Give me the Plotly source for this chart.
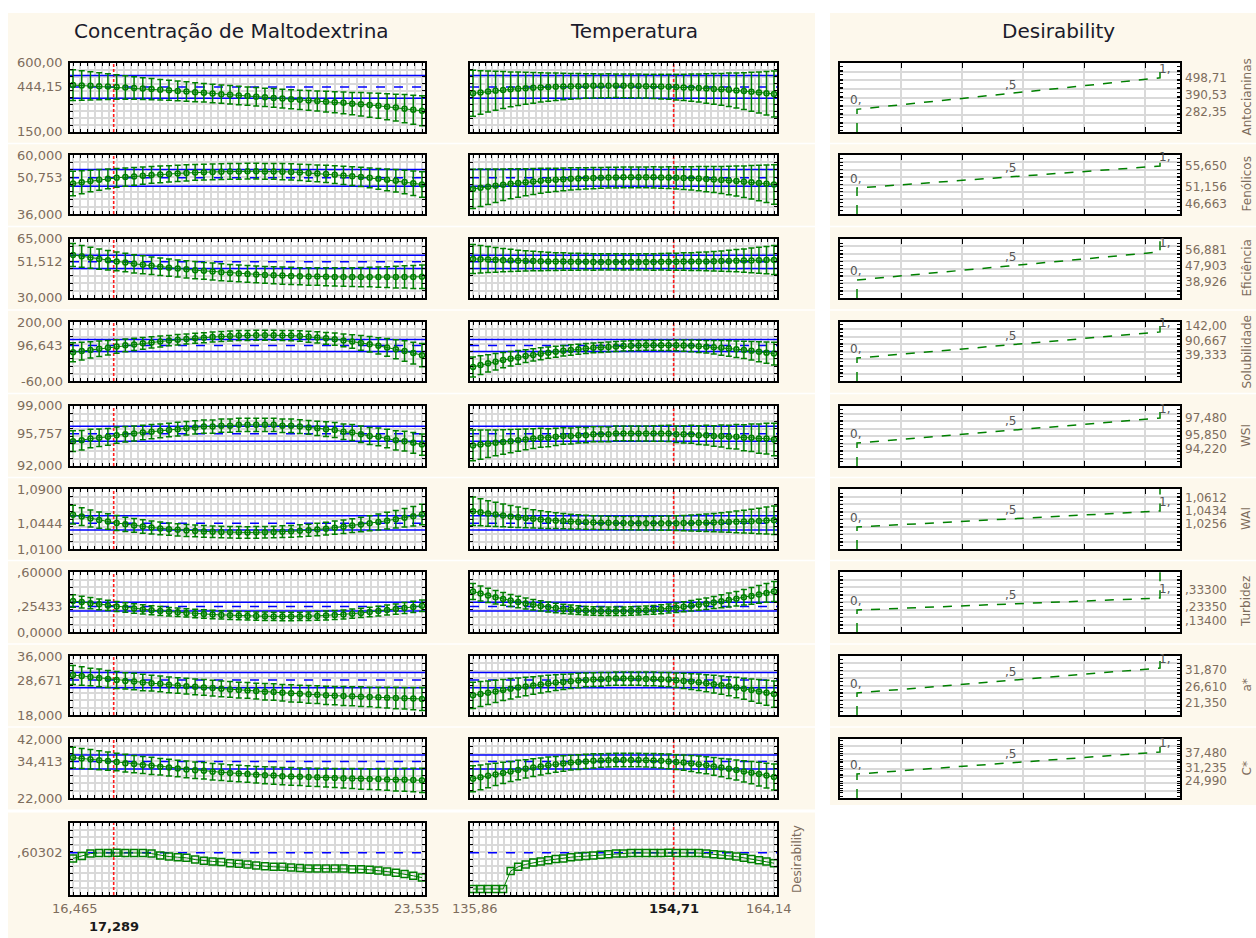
import plotly.graph_objects as go

W, H = 1256, 938
GREEN = '#008000'
BLUE = '#0000ff'
RED = '#ff1a1a'
LABEL_C = '#7d6d5d'
TITLE_C = '#1b1b2b'
BEIGE = '#fdf8ec'
FONT = 'DejaVu Sans'

# ------------------------------------------------------------------ data
FACTORS = ["Concentração de Maltodextrina", "Temperatura"]
MALTO = [16.465, 23.535]
TEMP = [135.86, 164.14]
MALTO_OPT = 17.289
TEMP_OPT = 154.71
X_LABELS = [["16,465", "23,535"], ["135,86", "164,14"]]
X_OPT_LABELS = ["17,289", "154,71"]
N_LEVELS = 41

RESP = ["Antocianinas", "Fenólicos", "Eficiência", "Solubilidade", "WSI", "WAI",
        "Turbidez", "a*", "C*"]
Y_RANGE = [[150, 600], [36, 60], [30, 65], [-60, 200], [92, 99], [1.01, 1.09],
           [0, 0.6], [18, 36], [22, 42]]
Y_LABELS = [["600,00", "444,15", "150,00"], ["60,000", "50,753", "36,000"],
            ["65,000", "51,512", "30,000"], ["200,00", "96,643", "-60,00"],
            ["99,000", "95,757", "92,000"], ["1,0900", "1,0444", "1,0100"],
            [",60000", ",25433", "0,0000"], ["36,000", "28,671", "18,000"],
            ["42,000", "34,413", "22,000"]]
CURRENT = [444.15, 50.753, 51.512, 96.643, 95.757, 1.0444, 0.25433, 28.671, 34.413]
CI = [[370, 518], [47.3, 54.1], [47.5, 55.4], [70, 123], [94.9, 96.65],
      [1.0353, 1.0545], [0.21, 0.298], [26.3, 31.0], [31.8, 36.6]]

anto_m = [456, 453, 451, 448, 446, 443, 440, 437, 433, 430,
          426, 422, 418, 414, 410, 406, 401, 397, 393, 388,
          384, 380, 376, 372, 368, 364, 360, 356, 352, 348,
          344, 340, 335, 331, 326, 321, 315, 309, 302, 295,
          288]
anto_m_e = [100, 96, 92, 88, 84, 80, 77, 74, 71, 69,
            67, 65, 64, 63, 62, 61, 61, 60, 60, 60,
            60, 60, 60, 61, 61, 62, 63, 64, 65, 67,
            69, 71, 73, 76, 79, 82, 85, 88, 92, 95,
            98]
anto_t = [402, 408, 414, 419, 424, 428, 432, 435, 438, 441,
          443, 445, 447, 448, 449, 450, 451, 451, 452, 452,
          451, 451, 450, 449, 448, 446, 445, 443, 441, 439,
          437, 434, 431, 428, 425, 421, 417, 413, 408, 403,
          398]
anto_t_e = [150, 142, 134, 127, 120, 114, 109, 104, 100, 96,
            92, 89, 86, 84, 82, 80, 79, 78, 78, 77,
            77, 77, 78, 78, 79, 80, 82, 84, 86, 89,
            92, 96, 100, 104, 109, 114, 120, 127, 134, 142,
            150]

fen_m = [48.4, 48.9, 49.4, 49.9, 50.3, 50.7, 51.0, 51.3, 51.6, 51.9,
         52.1, 52.3, 52.5, 52.7, 52.9, 53.0, 53.1, 53.2, 53.3, 53.3,
         53.4, 53.4, 53.3, 53.3, 53.2, 53.1, 52.9, 52.7, 52.5, 52.3,
         52.0, 51.7, 51.4, 51.1, 50.7, 50.3, 49.9, 49.5, 49.0, 48.5,
         48.0]
fen_m_e = [5.0, 4.7, 4.4, 4.2, 4.0, 3.8, 3.7, 3.6, 3.5, 3.4,
           3.4, 3.3, 3.3, 3.3, 3.2, 3.2, 3.2, 3.2, 3.2, 3.2,
           3.2, 3.2, 3.2, 3.2, 3.3, 3.3, 3.3, 3.4, 3.4, 3.5,
           3.6, 3.7, 3.8, 3.9, 4.0, 4.2, 4.4, 4.6, 4.8, 5.0,
           5.2]
fen_t = [46.2, 46.7, 47.1, 47.5, 47.9, 48.3, 48.6, 48.9, 49.2, 49.5,
         49.7, 49.9, 50.1, 50.3, 50.4, 50.5, 50.6, 50.7, 50.8, 50.8,
         50.9, 50.9, 50.9, 50.9, 50.9, 50.8, 50.8, 50.7, 50.6, 50.5,
         50.4, 50.2, 50.0, 49.8, 49.6, 49.4, 49.1, 48.9, 48.6, 48.3,
         48.0]
fen_t_e = [8.0, 7.6, 7.2, 6.8, 6.4, 6.1, 5.8, 5.5, 5.3, 5.1,
           4.9, 4.7, 4.6, 4.5, 4.4, 4.3, 4.3, 4.2, 4.2, 4.2,
           4.2, 4.2, 4.2, 4.2, 4.3, 4.3, 4.4, 4.5, 4.6, 4.7,
           4.9, 5.1, 5.3, 5.5, 5.8, 6.1, 6.4, 6.8, 7.2, 7.6,
           8.0]

efi_m = [55.5, 54.7, 53.9, 53.1, 52.4, 51.7, 51.0, 50.3, 49.7, 49.1,
         48.5, 48.0, 47.5, 47.0, 46.5, 46.1, 45.7, 45.3, 44.9, 44.6,
         44.3, 44.0, 43.7, 43.5, 43.3, 43.1, 42.9, 42.8, 42.7, 42.6,
         42.5, 42.5, 42.4, 42.4, 42.4, 42.4, 42.4, 42.4, 42.5, 42.5,
         42.6]
efi_m_e = [6.8, 6.5, 6.2, 6.0, 5.8, 5.6, 5.5, 5.4, 5.3, 5.2,
           5.2, 5.1, 5.1, 5.1, 5.1, 5.0, 5.0, 5.0, 5.0, 5.0,
           5.0, 5.0, 5.0, 5.0, 5.1, 5.1, 5.1, 5.2, 5.2, 5.3,
           5.4, 5.5, 5.6, 5.7, 5.8, 6.0, 6.2, 6.4, 6.6, 6.8,
           7.0]
efi_t = [53.2, 53.0, 52.8, 52.6, 52.4, 52.3, 52.1, 52.0, 51.9, 51.8,
         51.7, 51.6, 51.6, 51.5, 51.5, 51.5, 51.4, 51.4, 51.4, 51.4,
         51.4, 51.4, 51.4, 51.4, 51.4, 51.5, 51.5, 51.5, 51.6, 51.6,
         51.7, 51.7, 51.8, 51.9, 52.0, 52.1, 52.2, 52.3, 52.4, 52.5,
         52.6]
efi_t_e = [8.6, 8.1, 7.7, 7.3, 6.9, 6.6, 6.3, 6.0, 5.8, 5.6,
           5.4, 5.3, 5.2, 5.1, 5.0, 4.9, 4.9, 4.8, 4.8, 4.8,
           4.8, 4.8, 4.8, 4.8, 4.9, 4.9, 5.0, 5.1, 5.2, 5.3,
           5.4, 5.6, 5.8, 6.0, 6.3, 6.6, 6.9, 7.3, 7.7, 8.1,
           8.6]

sol_m = [67, 72, 77, 82, 87, 92, 97, 101, 106, 110,
         114, 118, 122, 125, 128, 131, 134, 136, 138, 140,
         141, 142, 142, 142, 141, 140, 138, 135, 132, 128,
         124, 119, 114, 108, 102, 95, 88, 80, 72, 63,
         54]
sol_m_e = [42, 39, 36, 34, 32, 30, 28, 27, 26, 25,
           24, 23, 23, 22, 22, 22, 22, 22, 22, 22,
           22, 22, 22, 22, 22, 23, 23, 24, 25, 26,
           27, 28, 30, 32, 34, 36, 39, 42, 45, 48,
           51]
sol_t = [2, 10, 18, 25, 32, 38, 44, 50, 55, 60,
         65, 69, 73, 77, 80, 83, 86, 88, 90, 92,
         94, 95, 96, 97, 97, 97, 97, 97, 96, 95,
         93, 91, 89, 86, 83, 80, 77, 73, 69, 65,
         61]
sol_t_e = [44, 41, 38, 36, 34, 32, 30, 28, 27, 26,
           25, 24, 23, 23, 22, 22, 22, 22, 22, 22,
           22, 22, 22, 22, 22, 23, 23, 24, 25, 26,
           27, 28, 30, 32, 34, 36, 38, 41, 44, 47,
           50]

wsi_m = [94.9, 95.0, 95.2, 95.3, 95.4, 95.6, 95.7, 95.8, 95.9, 96.0,
         96.1, 96.2, 96.3, 96.4, 96.5, 96.6, 96.6, 96.7, 96.7, 96.8,
         96.8, 96.8, 96.8, 96.8, 96.7, 96.7, 96.6, 96.5, 96.4, 96.3,
         96.2, 96.0, 95.9, 95.7, 95.5, 95.4, 95.2, 95.0, 94.9, 94.7,
         94.5]
wsi_m_e = [1.20, 1.14, 1.08, 1.03, 0.98, 0.94, 0.90, 0.87, 0.85, 0.83,
           0.81, 0.80, 0.79, 0.78, 0.78, 0.77, 0.77, 0.77, 0.77, 0.77,
           0.77, 0.77, 0.77, 0.78, 0.78, 0.79, 0.80, 0.81, 0.83, 0.85,
           0.87, 0.90, 0.93, 0.96, 1.00, 1.04, 1.08, 1.12, 1.16, 1.20,
           1.24]
wsi_t = [94.4, 94.5, 94.6, 94.7, 94.8, 94.9, 95.0, 95.1, 95.2, 95.3,
         95.3, 95.4, 95.5, 95.5, 95.6, 95.6, 95.7, 95.7, 95.7, 95.8,
         95.8, 95.8, 95.8, 95.8, 95.8, 95.8, 95.8, 95.7, 95.7, 95.7,
         95.6, 95.6, 95.5, 95.5, 95.4, 95.4, 95.3, 95.3, 95.2, 95.2,
         95.1]
wsi_t_e = [1.80, 1.70, 1.60, 1.51, 1.43, 1.35, 1.28, 1.21, 1.15, 1.10,
           1.05, 1.01, 0.97, 0.94, 0.92, 0.90, 0.88, 0.87, 0.86, 0.86,
           0.86, 0.86, 0.87, 0.88, 0.90, 0.92, 0.94, 0.97, 1.01, 1.05,
           1.10, 1.15, 1.21, 1.28, 1.35, 1.43, 1.51, 1.60, 1.70, 1.80,
           1.90]

wai_m = [1.0557, 1.0532, 1.0508, 1.0486, 1.0466, 1.0447, 1.0430, 1.0414, 1.0400, 1.0387,
         1.0375, 1.0365, 1.0356, 1.0348, 1.0341, 1.0335, 1.0330, 1.0326, 1.0323, 1.0322,
         1.0321, 1.0322, 1.0324, 1.0327, 1.0331, 1.0336, 1.0342, 1.0350, 1.0359, 1.0371,
         1.0385, 1.0398, 1.0412, 1.0427, 1.0443, 1.0460, 1.0478, 1.0497, 1.0517, 1.0538,
         1.0560]
wai_m_e = [0.0125, 0.0119, 0.0113, 0.0108, 0.0103, 0.0099, 0.0095, 0.0092, 0.0089, 0.0086,
           0.0084, 0.0082, 0.0081, 0.0080, 0.0079, 0.0078, 0.0078, 0.0077, 0.0077, 0.0077,
           0.0077, 0.0077, 0.0077, 0.0078, 0.0078, 0.0079, 0.0080, 0.0081, 0.0083, 0.0085,
           0.0087, 0.0090, 0.0093, 0.0097, 0.0101, 0.0106, 0.0111, 0.0117, 0.0123, 0.0130,
           0.0137]
wai_t = [1.0605, 1.0590, 1.0575, 1.0561, 1.0548, 1.0535, 1.0523, 1.0512, 1.0502, 1.0493,
         1.0485, 1.0478, 1.0472, 1.0466, 1.0461, 1.0457, 1.0454, 1.0451, 1.0449, 1.0447,
         1.0446, 1.0445, 1.0444, 1.0444, 1.0444, 1.0444, 1.0444, 1.0445, 1.0446, 1.0447,
         1.0449, 1.0451, 1.0453, 1.0456, 1.0459, 1.0462, 1.0466, 1.0470, 1.0474, 1.0479,
         1.0484]
wai_t_e = [0.0190, 0.0180, 0.0170, 0.0161, 0.0152, 0.0144, 0.0136, 0.0129, 0.0122, 0.0116,
           0.0111, 0.0106, 0.0102, 0.0098, 0.0095, 0.0093, 0.0091, 0.0090, 0.0089, 0.0088,
           0.0088, 0.0088, 0.0089, 0.0090, 0.0091, 0.0093, 0.0095, 0.0098, 0.0102, 0.0106,
           0.0111, 0.0116, 0.0122, 0.0129, 0.0136, 0.0144, 0.0152, 0.0161, 0.0170, 0.0180,
           0.0190]

tur_m = [0.310, 0.299, 0.288, 0.277, 0.266, 0.255, 0.245, 0.235, 0.226, 0.218,
         0.210, 0.203, 0.197, 0.191, 0.185, 0.180, 0.175, 0.171, 0.167, 0.164,
         0.161, 0.159, 0.157, 0.156, 0.155, 0.155, 0.156, 0.158, 0.161, 0.165,
         0.170, 0.176, 0.183, 0.191, 0.200, 0.209, 0.219, 0.229, 0.240, 0.251,
         0.262]
tur_m_e = [0.062, 0.059, 0.056, 0.054, 0.052, 0.050, 0.048, 0.047, 0.046, 0.045,
           0.044, 0.043, 0.043, 0.042, 0.042, 0.042, 0.042, 0.042, 0.042, 0.042,
           0.042, 0.042, 0.042, 0.042, 0.042, 0.042, 0.042, 0.043, 0.043, 0.044,
           0.044, 0.045, 0.046, 0.047, 0.048, 0.049, 0.050, 0.052, 0.054, 0.056,
           0.058]
tur_t = [0.405, 0.385, 0.366, 0.348, 0.331, 0.315, 0.300, 0.286, 0.273, 0.261,
         0.250, 0.240, 0.231, 0.224, 0.218, 0.213, 0.210, 0.208, 0.207, 0.207,
         0.208, 0.210, 0.213, 0.217, 0.222, 0.228, 0.235, 0.243, 0.252, 0.262,
         0.272, 0.283, 0.295, 0.307, 0.320, 0.333, 0.347, 0.361, 0.376, 0.391,
         0.406]
tur_t_e = [0.080, 0.076, 0.072, 0.068, 0.064, 0.061, 0.058, 0.055, 0.053, 0.051,
           0.049, 0.047, 0.046, 0.045, 0.044, 0.043, 0.043, 0.042, 0.042, 0.042,
           0.042, 0.042, 0.042, 0.043, 0.044, 0.045, 0.046, 0.048, 0.050, 0.052,
           0.055, 0.058, 0.061, 0.065, 0.069, 0.073, 0.078, 0.083, 0.088, 0.094,
           0.100]

as_m = [30.2, 29.9, 29.6, 29.3, 29.0, 28.7, 28.4, 28.2, 27.9, 27.7,
        27.5, 27.2, 27.0, 26.8, 26.6, 26.4, 26.2, 26.0, 25.8, 25.6,
        25.5, 25.3, 25.1, 25.0, 24.8, 24.6, 24.5, 24.3, 24.2, 24.0,
        23.9, 23.8, 23.7, 23.6, 23.5, 23.4, 23.3, 23.2, 23.1, 23.0,
        22.9]
as_m_e = [2.9, 2.8, 2.7, 2.7, 2.6, 2.6, 2.5, 2.5, 2.5, 2.4,
          2.4, 2.4, 2.4, 2.4, 2.4, 2.4, 2.4, 2.4, 2.4, 2.4,
          2.4, 2.4, 2.5, 2.5, 2.5, 2.6, 2.6, 2.7, 2.7, 2.8,
          2.8, 2.9, 2.9, 3.0, 3.0, 3.1, 3.2, 3.3, 3.3, 3.4,
          3.5]
as_t = [24.0, 24.4, 24.8, 25.2, 25.6, 26.0, 26.4, 26.7, 27.0, 27.3,
        27.6, 27.9, 28.1, 28.3, 28.5, 28.7, 28.8, 28.9, 29.0, 29.1,
        29.1, 29.1, 29.1, 29.0, 29.0, 28.9, 28.8, 28.6, 28.4, 28.2,
        28.0, 27.7, 27.4, 27.1, 26.8, 26.4, 26.0, 25.6, 25.2, 24.8,
        24.4]
as_t_e = [4.0, 3.8, 3.6, 3.4, 3.2, 3.1, 2.9, 2.8, 2.7, 2.6,
          2.5, 2.4, 2.3, 2.2, 2.2, 2.1, 2.1, 2.1, 2.0, 2.0,
          2.0, 2.0, 2.0, 2.1, 2.1, 2.1, 2.2, 2.2, 2.3, 2.4,
          2.5, 2.6, 2.7, 2.8, 2.9, 3.1, 3.2, 3.4, 3.6, 3.8,
          4.0]

cs_m = [35.7, 35.4, 35.1, 34.8, 34.5, 34.2, 33.8, 33.5, 33.2, 32.9,
        32.6, 32.3, 32.0, 31.7, 31.4, 31.2, 30.9, 30.7, 30.5, 30.3,
        30.1, 29.9, 29.7, 29.6, 29.4, 29.3, 29.2, 29.1, 29.0, 28.9,
        28.8, 28.7, 28.6, 28.5, 28.4, 28.4, 28.3, 28.2, 28.2, 28.1,
        28.0]
cs_m_e = [3.5, 3.4, 3.3, 3.2, 3.1, 3.0, 3.0, 2.9, 2.9, 2.9,
          2.8, 2.8, 2.8, 2.8, 2.8, 2.8, 2.8, 2.8, 2.8, 2.8,
          2.8, 2.8, 2.9, 2.9, 2.9, 3.0, 3.0, 3.1, 3.1, 3.2,
          3.2, 3.3, 3.4, 3.5, 3.5, 3.6, 3.7, 3.8, 3.9, 4.0,
          4.1]
cs_t = [28.5, 29.0, 29.5, 30.0, 30.5, 31.0, 31.5, 31.9, 32.3, 32.7,
        33.1, 33.4, 33.7, 34.0, 34.2, 34.4, 34.6, 34.7, 34.8, 34.9,
        34.9, 34.9, 34.9, 34.8, 34.7, 34.6, 34.4, 34.2, 34.0, 33.7,
        33.4, 33.1, 32.7, 32.3, 31.9, 31.5, 31.0, 30.6, 30.1, 29.6,
        29.1]
cs_t_e = [4.4, 4.2, 4.0, 3.8, 3.6, 3.4, 3.3, 3.1, 3.0, 2.9,
          2.8, 2.7, 2.6, 2.5, 2.5, 2.4, 2.4, 2.3, 2.3, 2.3,
          2.3, 2.3, 2.3, 2.3, 2.4, 2.4, 2.5, 2.5, 2.6, 2.7,
          2.8, 2.9, 3.0, 3.1, 3.3, 3.4, 3.6, 3.8, 4.0, 4.2,
          4.4]

M_CENTER = [anto_m, fen_m, efi_m, sol_m, wsi_m, wai_m, tur_m, as_m, cs_m]
M_ERR = [anto_m_e, fen_m_e, efi_m_e, sol_m_e, wsi_m_e, wai_m_e, tur_m_e, as_m_e, cs_m_e]
T_CENTER = [anto_t, fen_t, efi_t, sol_t, wsi_t, wai_t, tur_t, as_t, cs_t]
T_ERR = [anto_t_e, fen_t_e, efi_t_e, sol_t_e, wsi_t_e, wai_t_e, tur_t_e, as_t_e, cs_t_e]

# overall desirability profiles
des_m = [0.51, 0.55, 0.59, 0.60, 0.60, 0.603, 0.60, 0.60, 0.60, 0.59,
         0.56, 0.54, 0.53, 0.52, 0.49, 0.47, 0.46, 0.45, 0.43, 0.42,
         0.41, 0.39, 0.38, 0.37, 0.37, 0.36, 0.35, 0.34, 0.34, 0.34,
         0.34, 0.34, 0.33, 0.33, 0.32, 0.31, 0.29, 0.27, 0.25, 0.22,
         0.19]
des_t = [0.0, 0.0, 0.0, 0.0, 0.0, 0.30, 0.37, 0.41, 0.44, 0.46,
         0.48, 0.50, 0.51, 0.53, 0.54, 0.55, 0.56, 0.57, 0.58, 0.59,
         0.59, 0.60, 0.60, 0.60, 0.60, 0.60, 0.603, 0.60, 0.60, 0.60,
         0.60, 0.59, 0.58, 0.57, 0.56, 0.54, 0.52, 0.50, 0.48, 0.46,
         0.43]
DES_CURRENT = 0.60302
DES_LABEL = ",60302"
DES_RANGE = [-0.1, 1.1]

# individual desirability functions (low / medium / high response values)
D_LEVELS = [0, 0.5, 1]
D_LEVEL_TEXT = ["0,", ",5", "1,"]
D_POINTS = [[282.35, 390.53, 498.71], [46.663, 51.156, 55.650],
            [38.926, 47.903, 56.881], [39.333, 90.667, 142.00],
            [94.220, 95.850, 97.480], [1.0256, 1.0434, 1.0612],
            [0.13400, 0.23350, 0.33300], [21.350, 26.610, 31.870],
            [24.990, 31.235, 37.480]]
D_LABELS = [["498,71", "390,53", "282,35"], ["55,650", "51,156", "46,663"],
            ["56,881", "47,903", "38,926"], ["142,00", "90,667", "39,333"],
            ["97,480", "95,850", "94,220"], ["1,0612", "1,0434", "1,0256"],
            [",33300", ",23350", ",13400"], ["31,870", "26,610", "21,350"],
            ["37,480", "31,235", "24,990"]]

# ------------------------------------------------------------------ layout geometry (pixels)
COLS = [(70, 425), (470, 777)]
DCOL = (840, 1180)
ROWS = [(63, 132), (155, 214), (239, 298), (322, 381), (406, 466), (489, 549),
        (572, 632), (656, 715), (739, 798)]
DROW = (823, 895)
D_YRANGE = [(-0.72, 1.47), (-1.18, 1.5), (-0.64, 1.46), (-0.88, 1.38), (-0.92, 1.48),
            (-1.375, 2.375), (-1.83, 3.17), (-0.88, 1.48), (-1.09, 1.59)]
RIGHT_LABEL_PIX = [(78, 95, 112), (166, 187, 204), (250, 266, 282), (326, 341, 355),
                   (418, 435, 449), (498, 511, 524), (590, 607, 621), (670, 687, 703),
                   (753, 768, 781)]


def px(x):
    return x / W


def py(y):
    return 1 - y / H


AX = dict(showline=True, linecolor='black', linewidth=2, mirror='allticks',
          ticks='inside', ticklen=3, tickwidth=1, tickcolor='black',
          showticklabels=False, showgrid=True, gridcolor='#d9d9d9', gridwidth=2,
          zeroline=False, fixedrange=True)

layout = dict(width=W, height=H, autosize=False, margin=dict(l=0, r=0, t=0, b=0),
              paper_bgcolor='white', plot_bgcolor='white', showlegend=False,
              font=dict(family=FONT, size=13, color=LABEL_C))
traces = []
shapes = []
annotations = []

# beige panel blocks
shapes.append(dict(type='rect', xref='paper', yref='paper', x0=px(8), x1=px(815),
                   y0=0, y1=py(13), fillcolor=BEIGE, line=dict(width=0), layer='below'))
shapes.append(dict(type='rect', xref='paper', yref='paper', x0=px(830), x1=1,
                   y0=py(805), y1=py(13), fillcolor=BEIGE, line=dict(width=0), layer='below'))
# faint separators between rows
seps = [(ROWS[i][1] + ROWS[i + 1][0]) / 2 for i in range(len(ROWS) - 1)]
for s in seps:
    for (a, b) in [(8, 815), (830, W)]:
        shapes.append(dict(type='line', xref='paper', yref='paper', x0=px(a), x1=px(b),
                           y0=py(s), y1=py(s), line=dict(color='white', width=1.5),
                           layer='below'))
shapes.append(dict(type='line', xref='paper', yref='paper', x0=px(8), x1=px(815),
                   y0=py(811), y1=py(811), line=dict(color='white', width=3), layer='below'))

counter = [0]


def new_axes(xl, xr, yt, yb, xrange, yrange, x0, xdt, y0, ydt, xticklen=3, yminor=None):
    counter[0] += 1
    k = counter[0]
    xn = 'x' if k == 1 else f'x{k}'
    yn = 'y' if k == 1 else f'y{k}'
    xa = dict(AX, domain=[px(xl), px(xr)], range=xrange, anchor=yn,
              tickmode='linear', tick0=x0, dtick=xdt, ticklen=xticklen)
    ya = dict(AX, domain=[py(yb), py(yt)], range=yrange, anchor=xn,
              tickmode='linear', tick0=y0, dtick=ydt)
    if yminor:
        ya['minor'] = dict(tickmode='linear', dtick=yminor, ticklen=3, tickcolor='black',
                           ticks='inside', showgrid=False)
    layout['xaxis' if k == 1 else f'xaxis{k}'] = xa
    layout['yaxis' if k == 1 else f'yaxis{k}'] = ya
    shapes.append(dict(type='rect', xref='paper', yref='paper', x0=px(xl), x1=px(xr),
                       y0=py(yb), y1=py(yt), fillcolor='white', line=dict(width=0),
                       layer='below'))
    return xn, yn


def hline(xn, yn, xrng, v, dash='solid'):
    traces.append(go.Scatter(x=xrng, y=[v, v], xaxis=xn, yaxis=yn, mode='lines',
                             line=dict(color=BLUE, width=1.5, dash=dash), hoverinfo='skip'))


FACT_RANGES = [MALTO, TEMP]
FACT_OPT = [MALTO_OPT, TEMP_OPT]
CENTERS = [M_CENTER, T_CENTER]
ERRS = [M_ERR, T_ERR]
DES = [des_m, des_t]

for c, (xl, xr) in enumerate(COLS):
    lo, hi = FACT_RANGES[c]
    span = hi - lo
    pad = span * 3 / ((xr - xl) - 6)
    xrng = [lo - pad, hi + pad]
    xs = [lo + span * i / (N_LEVELS - 1) for i in range(N_LEVELS)]
    xdt = span / 48
    rows_all = list(ROWS) + [DROW]
    for r, (yt, yb) in enumerate(rows_all):
        if r < len(RESP):
            ylo, yhi = Y_RANGE[r]
        else:
            ylo, yhi = DES_RANGE
        ndiv = 10 if (yb - yt) > 65 else 8
        xn, yn = new_axes(xl, xr, yt, yb, xrng, [ylo, yhi], lo, xdt, ylo, (yhi - ylo) / ndiv)
        # red optimum line
        traces.append(go.Scatter(x=[FACT_OPT[c], FACT_OPT[c]], y=[ylo, yhi], xaxis=xn,
                                 yaxis=yn, mode='lines',
                                 line=dict(color=RED, width=1.6, dash='3px,2px'),
                                 hoverinfo='skip'))
        if r < len(RESP):
            for v in CI[r]:
                hline(xn, yn, xrng, v)
            hline(xn, yn, xrng, CURRENT[r], 'dash')
            traces.append(go.Scatter(
                x=xs, y=CENTERS[c][r], xaxis=xn, yaxis=yn, mode='lines+markers',
                line=dict(color=GREEN, width=1),
                marker=dict(symbol='circle-open', size=5, color=GREEN, line=dict(width=1.5)),
                error_y=dict(type='data', array=ERRS[c][r], visible=True, color=GREEN,
                             thickness=1.5, width=3),
                hoverinfo='skip'))
            if c == 0:
                for txt, val in zip(Y_LABELS[r], [yhi, CURRENT[r], ylo]):
                    annotations.append(dict(text=txt, xref='paper', x=px(65), xanchor='right',
                                            yref=yn, y=val, yanchor='middle', showarrow=False,
                                            font=dict(family=FONT, size=13, color=LABEL_C)))
        else:
            hline(xn, yn, xrng, DES_CURRENT, 'dash')
            traces.append(go.Scatter(
                x=xs, y=DES[c], xaxis=xn, yaxis=yn, mode='lines+markers',
                line=dict(color=GREEN, width=1),
                marker=dict(symbol='square-open', size=7, color=GREEN, line=dict(width=1.5)),
                hoverinfo='skip'))
            if c == 0:
                annotations.append(dict(text=DES_LABEL, xref='paper', x=px(65), xanchor='right',
                                        yref=yn, y=DES_CURRENT, yanchor='middle', showarrow=False,
                                        font=dict(family=FONT, size=13, color=LABEL_C)))
            # x axis labels
            for txt, val, sh in zip(X_LABELS[c], [lo, hi], [2, -5]):
                annotations.append(dict(text=txt, xref=xn, x=val, xanchor='center', xshift=sh,
                                        yref='paper', y=py(908), yanchor='middle',
                                        showarrow=False,
                                        font=dict(family=FONT, size=13, color=LABEL_C)))
            opt_y = 926 if c == 0 else 908
            annotations.append(dict(text=f'<b>{X_OPT_LABELS[c]}</b>', xref=xn, x=FACT_OPT[c],
                                    xanchor='center', yref='paper', y=py(opt_y),
                                    yanchor='middle', showarrow=False,
                                    font=dict(family=FONT, size=13, color='#1a1a1a')))

# right column: individual desirability functions
for r, (yt, yb) in enumerate(ROWS):
    lo, mid, hi = D_POINTS[r]
    span = hi - lo
    xl, xr = DCOL
    xrng = [lo - 17 * span / 303, hi + 20 * span / 303]
    ymin, ymax = D_YRANGE[r]
    xn, yn = new_axes(xl, xr, yt, yb, xrng, [ymin, ymax], xrng[0], 61 * span / 303,
                      ymin, (ymax - ymin) / 8, xticklen=5, yminor=(ymax - ymin) / 16)
    traces.append(go.Scatter(
        x=[lo] + [lo, mid, hi] + [hi], y=[ymin] + D_LEVELS + [ymax], xaxis=xn, yaxis=yn,
        mode='lines', line=dict(color=GREEN, width=1.5, dash='dash'), hoverinfo='skip'))
    for txt, xv, lv, sh in zip(D_LEVEL_TEXT, D_POINTS[r], D_LEVELS, [-2, 2, 4]):
        annotations.append(dict(text=txt, xref=xn, x=xv, xshift=sh, yref=yn, y=lv, yshift=9,
                                xanchor='center', yanchor='middle', showarrow=False,
                                font=dict(family=FONT, size=12, color='#555555')))
    for txt, ypix in zip(D_LABELS[r], RIGHT_LABEL_PIX[r]):
        annotations.append(dict(text=txt, xref='paper', x=px(1183), xanchor='left',
                                yref='paper', y=py(ypix), yanchor='middle', showarrow=False,
                                font=dict(family=FONT, size=12, color=LABEL_C)))
    annotations.append(dict(text=RESP[r], xref='paper', x=px(1246), xanchor='center',
                            yref='paper', y=py((yt + yb) / 2), yanchor='middle',
                            textangle=-90, showarrow=False,
                            font=dict(family=FONT, size=12, color=LABEL_C)))

# bottom-row rotated label
annotations.append(dict(text="Desirability", xref='paper', x=px(797), xanchor='center',
                        yref='paper', y=py((DROW[0] + DROW[1]) / 2), yanchor='middle',
                        textangle=-90, showarrow=False,
                        font=dict(family=FONT, size=12, color=LABEL_C)))

# column titles
for txt, xc in zip(FACTORS + ["Desirability"], [232, 634, 1058]):
    annotations.append(dict(text=txt, xref='paper', x=px(xc), xanchor='center',
                            yref='paper', y=py(31), yanchor='middle', showarrow=False,
                            font=dict(family=FONT, size=20, color=TITLE_C)))

layout['shapes'] = shapes
layout['annotations'] = annotations

fig = go.Figure(data=traces, layout=layout)
fig.write_html("out.html", config={'displayModeBar': False, 'staticPlot': True},
               post_script="document.body.style.margin='0';")
